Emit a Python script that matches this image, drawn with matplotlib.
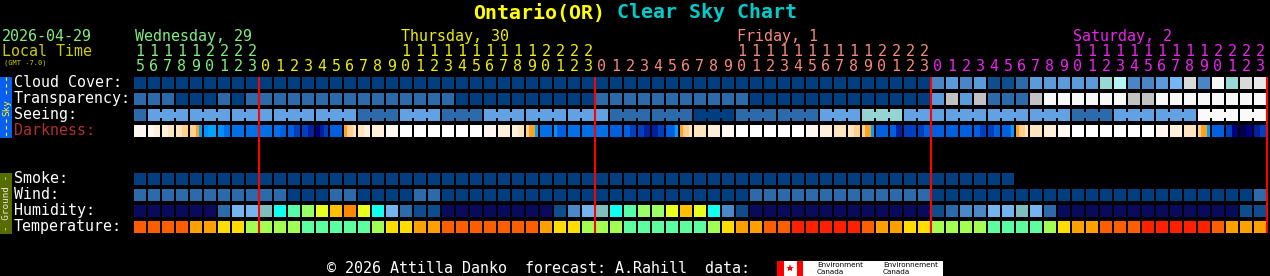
import matplotlib
matplotlib.use('Agg')
import matplotlib.pyplot as plt
from matplotlib.patches import Rectangle

# columns: Wed 15h .. Sat 23h
day_names = ['Wednesday, 29', 'Thursday, 30', 'Friday, 1', 'Saturday, 2']
day_colors = ['#80ee80', '#eeee00', '#f58a7a', '#ee22ee']
day_hours = [list(range(15, 24)), list(range(24)), list(range(24)), list(range(24))]

# cloud cover in percent
cloud = [0] * 57 + [30, 40, 30, 40, 10, 10, 20, 40, 40, 40, 40, 40, 60, 70, 30, 30,
                    40, 50, 90, 30, 100, 60, 90, 95]
cloud_colors = {0: '#003f7f', 10: '#0f4d8c', 20: '#2c6aa9', 30: '#4a86c5', 40: '#5b9bdc',
                50: '#76b6f6', 60: '#9ad8d8', 70: '#b4f4f4', 90: '#d9d9d9', 95: '#e8e8e8',
                100: '#f6f6f6'}

# transparency: 0 transparent .. 4 too cloudy
transp = [1, 1, 1, 0, 0, 0, 1, 0] + [1] * 15 + [0] * 10 + [1] * 11 + [0] * 13 + \
         [2, 3, 2, 3, 1, 1, 1, 3, 4, 4, 4, 4, 4, 4, 3, 3, 4, 4, 4, 4, 4, 4, 4, 4]
transp_colors = ['#003f7f', '#2c6aa9', '#5b9bdc', '#c2c2c2', '#f8f8f8']

# seeing, forecast in blocks
seeing = [1, 2, 2, 2, 2, 2, 1, 2, 1, 2, 2, 2, 1, 1, 0, 1, 1, 2, 3, 2, 2, 2, 2, 1, 2, 2, 4, 4]
seeing_len = [1] + [3] * 26 + [2]
seeing_colors = ['#003f7f', '#2c6aa9', '#62a2e2', '#96d4d4', '#fafafa']

# darkness levels, sub-steps inside each hour
darkness = [(1,), (1, 2), (2, 3), (3, 4), (4, 4, 5, 6), (7, 6, 6), (7, 8), (8,), (8,), (8,),
            (8, 9), (9, 10), (10, 11), (12, 11, 10), (9,), (5, 4, 4, 3), (3, 2), (2,), (1,),
            (0,), (0,), (0,), (0,), (0,), (0,),
            (1,), (2,), (2, 3), (4, 5, 5, 6), (8,), (7, 9, 9, 9), (8,), (8,), (8,), (9,),
            (9, 10), (10, 11), (11, 10), (9, 9, 9, 6), (5, 4, 4, 3), (3,), (2,), (1,),
            (0,), (0,), (0,), (0,), (0,),
            (1,), (2,), (3,), (3, 4), (4, 5, 5, 6), (9,), (9, 11), (10,), (10, 9), (9,), (9,),
            (9,), (9, 10), (10, 9), (9, 9, 9, 6), (5, 4, 4, 3), (3,), (2,), (1,),
            (0,), (0,), (0,), (0,), (0,), (0,),
            (1,), (2,), (3,), (4, 5, 5, 6), (9,), (10, 12), (13, 12), (11, 10)]
dark_colors = ['#ffffff', '#fff8f0', '#fff0dc', '#ffe4c0', '#ffd090', '#ffa020', '#00a0ff',
               '#0090ff', '#0070e8', '#0060e0', '#0040c0', '#0020a0', '#000080', '#000050']

smoke = [0] * 63
smoke_colors = ['#033f7e']

wind = [1] * 11 + [0, 0, 0, 1, 1, 0, 0, 0, 0, 1, 1] + [0] * 22 + [1] * 13 + [0] * 23 + [1]
wind_colors = ['#003f7f', '#2c6aa9']

humidity = [0] * 6 + [2, 4, 4, 5, 6, 7, 8, 9, 10, 11, 9, 6, 4, 2, 1, 1] + [0] * 8 + \
           [1, 3, 4, 5, 6, 7, 8, 8, 9, 10, 9, 6, 3, 1] + [0] * 13 + \
           [1, 2, 3, 3, 4, 4, 5, 4, 2] + [0] * 13 + [1, 1]
hum_colors = ['#0a0a5c', '#0f4c8c', '#2c6aa9', '#4a88c8', '#76b4f0', '#80bebe', '#10ffee',
              '#55ffaa', '#99ff66', '#e8ff20', '#ffc000', '#ff8800']

temperature = [4] * 4 + [3] * 2 + [2] * 2 + [1] * 4 + [0] * 5 + [1] + [2] * 2 + [3] * 2 + \
              [4] * 7 + [3] + [2] * 2 + [1] * 3 + [0] * 6 + [1] + [2] + [3] * 2 + [4] * 2 + \
              [5] * 5 + [4] + [3] * 2 + [2] * 2 + [1] * 4 + [0] * 4 + [1] + [2] + [3] * 2 + \
              [4] * 3 + [5] * 5 + [4] + [3] * 3
temp_colors = ['#5cffa0', '#a2ff52', '#ffdd00', '#ffa000', '#ff5e00', '#ff2000']

sky_labels = ['Cloud Cover:', 'Transparency:', 'Seeing:', 'Darkness:']
ground_labels = ['Smoke:', 'Wind:', 'Humidity:', 'Temperature:']
logo_left = ['Environment', 'Canada']
logo_right = ['Environnement', 'Canada']

X0, PITCH, CELL = 134, 14, 12
MONO = 'DejaVu Sans Mono'

fig = plt.figure(figsize=(12.7, 2.76), dpi=100, facecolor='black')
ax = fig.add_axes([0, 0, 1, 1])
ax.set_xlim(0, 1270)
ax.set_ylim(276, 0)
ax.axis('off')


def cell_row(values, colors, top):
    xs = [X0 + PITCH * i for i in range(len(values))]
    ax.bar(xs, [CELL] * len(values), width=CELL, bottom=top, align='edge',
           color=[colors[v] for v in values], linewidth=0, antialiased=False)


# sky rows
cell_row(cloud, cloud_colors, 77)
cell_row(transp, transp_colors, 93)

col = 0
for val, n in zip(seeing, seeing_len):
    cell_row_x = [X0 + PITCH * (col + k) for k in range(n)]
    ax.bar(cell_row_x, [CELL] * n, width=CELL, bottom=109, align='edge',
           color=seeing_colors[val], linewidth=0, antialiased=False)
    if n > 1:
        ax.bar([x + CELL for x in cell_row_x[:-1]], [6] * (n - 1), width=PITCH - CELL,
               bottom=112, align='edge', color=seeing_colors[val], linewidth=0,
               antialiased=False)
    col += n

for i, parts in enumerate(darkness):
    w = CELL / len(parts)
    xs = [X0 + PITCH * i + w * k for k in range(len(parts))]
    ax.bar(xs, [CELL] * len(parts), width=w, bottom=125, align='edge',
           color=[dark_colors[p] for p in parts], linewidth=0, antialiased=False)

# ground rows
cell_row(smoke, smoke_colors, 173)
cell_row(wind, wind_colors, 189)
cell_row(humidity, hum_colors, 205)
cell_row(temperature, temp_colors, 221)

# hour header and midnight lines
col = 0
midnights = []
for name, color, hrs in zip(day_names, day_colors, day_hours):
    label_done = False
    for h in hrs:
        cx = X0 + PITCH * col + CELL / 2
        if h == 0:
            midnights.append(X0 + PITCH * col - 1)
        if h >= 10:
            ax.text(cx, 55.5, str(h // 10), color=color, family=MONO, fontsize=10.8,
                    ha='center', va='baseline')
            if not label_done:
                ax.text(X0 + PITCH * col + 1, 41, name, color=color, family=MONO,
                        fontsize=10.8, ha='left', va='baseline')
                label_done = True
        ax.text(cx, 71, str(h % 10), color=color, family=MONO, fontsize=10.8,
                ha='center', va='baseline')
        col += 1
midnights.append(X0 + PITCH * col - 1)
ax.vlines(midnights, 77, 233, colors='#ff0000', linewidth=1.5)

# titles and left texts
ax.text(473, 18.5, 'Ontario(OR)', color='#ffff00', family=MONO, fontsize=14.4,
        fontweight='bold', va='baseline')
ax.text(617, 18.5, 'Clear Sky Chart', color='#00cccc', family=MONO, fontsize=14.4,
        fontweight='bold', va='baseline')
ax.text(2, 41, '2026-04-29', color='#80ee80', family=MONO, fontsize=10.8, va='baseline')
ax.text(2, 55.5, 'Local Time', color='#cccc00', family=MONO, fontsize=10.8, va='baseline')
ax.text(4, 64, '(GMT -7.0)', color='#cccc00', family=MONO, fontsize=5, va='baseline')

for k, lab in enumerate(sky_labels):
    ax.text(14, 87 + 16 * k, lab, color='#b03030' if lab == 'Darkness:' else 'white',
            family=MONO, fontsize=10.8, va='baseline')
for k, lab in enumerate(ground_labels):
    ax.text(14, 183 + 16 * k, lab, color='white', family=MONO, fontsize=10.8, va='baseline')

# side bars
ax.add_patch(Rectangle((0, 76.5), 12, 61, facecolor='#0860f0', linewidth=0))
ax.vlines(6, 77, 96, colors='#ffff00', linewidth=0.8, linestyles=(0, (3, 3)))
ax.vlines(6, 119, 137, colors='#ffff00', linewidth=0.8, linestyles=(0, (3, 3)))
ax.text(6.5, 107.5, 'Sky', color='#ffff00', family=MONO, fontsize=6.7, rotation=90,
        ha='center', va='center')
ax.add_patch(Rectangle((0, 172.5), 12, 61, facecolor='#566c00', linewidth=0))
ax.text(6.5, 203, '- Ground -', color='#e8e8e8', family=MONO, fontsize=6.7, rotation=90,
        ha='center', va='center')

# footer
ax.text(327, 273, '\u00a9 2026 Attilla Danko  forecast: A.Rahill  data:', color='white',
        family=MONO, fontsize=10.8, va='baseline')
ax.add_patch(Rectangle((777, 261), 166, 15, facecolor='white', linewidth=0))
ax.add_patch(Rectangle((777, 261), 6.5, 15, facecolor='#ff0000', linewidth=0))
ax.add_patch(Rectangle((796.5, 261), 6.5, 15, facecolor='#ff0000', linewidth=0))
ax.plot([790], [268], marker='*', color='#ff0000', markersize=6, markeredgewidth=0)
for k, (a, b) in enumerate(zip(logo_left, logo_right)):
    ax.text(817, 267 + 6.5 * k, a, color='black', fontsize=5.2, va='baseline')
    ax.text(883, 267 + 6.5 * k, b, color='black', fontsize=5.2, va='baseline')

fig.savefig('out.png', dpi=100, facecolor='black')
